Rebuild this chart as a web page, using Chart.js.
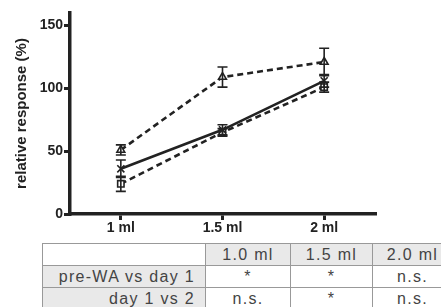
<!DOCTYPE html>
<html>
<head>
<meta charset="utf-8">
<script src="https://cdn.jsdelivr.net/npm/chart.js@4/dist/chart.umd.min.js"></script>
<style>
html,body{margin:0;padding:0;background:#fff;overflow:hidden;}
#wrap{position:absolute;left:0;top:0;width:441px;height:240px;}
#tbl{position:absolute;left:42px;top:243px;border-collapse:collapse;font-family:Arial,"Liberation Sans",sans-serif;font-size:16px;letter-spacing:1.3px;color:#444;table-layout:fixed;border-left:1.5px solid #444;border-top:1.5px solid #444;}
#tbl td{height:21px;padding:0 5px;border:1px solid #999;line-height:21px;white-space:nowrap;overflow:hidden;}
#tbl td.g{background:#e9e9e9;}
#tbl td.r{text-align:right;padding-right:10px;}
#tbl td.c{text-align:center;}
#tbl tr.last td{border-top:1.5px solid #555;}
</style>
</head>
<body>
<div id="wrap"><canvas id="c" width="441" height="240"></canvas></div>
<table id="tbl"></table>
<script>
const categories = ["1 ml", "1.5 ml", "2 ml"];
const triangleMean = [51, 109, 121];
const triangleSem = [4, 8, 11];
const crossMean = [36, 67, 106];
const crossSem = [7, 4, 5];
const squareMean = [24, 65, 101];
const squareSem = [6, 3, 4];
const yTicks = [0, 50, 100, 150];

const tableHeader = ["", "1.0 ml", "1.5 ml", "2.0 ml"];
const tableRowLabels = ["pre-WA vs day 1", "day 1 vs 2"];
const tableRow1 = ["*", "*", "n.s."];
const tableRow2 = ["n.s.", "*", "n.s."];

// build table
const tbl = document.getElementById('tbl');
const colW = [163, 85, 82, 80];
let h = '<colgroup>' + colW.map(w => '<col style="width:' + w + 'px">').join('') + '</colgroup>';
h += '<tr>' + tableHeader.map((t, i) => '<td class="c' + (i > 0 ? ' g' : '') + '">' + t + '</td>').join('') + '</tr>';
[tableRow1, tableRow2].forEach((row, ri) => {
  h += '<tr' + (ri === 1 ? ' class="last"' : '') + '><td class="r g">' + tableRowLabels[ri] + '</td>' +
    row.map(v => '<td class="c">' + v + '</td>').join('') + '</tr>';
});
tbl.innerHTML = h;
tbl.style.width = colW.reduce((a, b) => a + b, 0) + 'px';

const INK = '#222';
const errorBars = {
  id: 'errorBars',
  afterDatasetsDraw(chart) {
    const ctx = chart.ctx;
    const y = chart.scales.y;
    chart.data.datasets.forEach((ds, di) => {
      const meta = chart.getDatasetMeta(di);
      meta.data.forEach((pt, i) => {
        const m = ds.data[i], s = ds.sem[i];
        const yt = y.getPixelForValue(m + s), yb = y.getPixelForValue(m - s);
        ctx.save();
        ctx.strokeStyle = INK;
        ctx.lineWidth = 1.6;
        ctx.beginPath();
        ctx.moveTo(pt.x, yt); ctx.lineTo(pt.x, yb);
        ctx.moveTo(pt.x - 5, yt); ctx.lineTo(pt.x + 5, yt);
        ctx.moveTo(pt.x - 5, yb); ctx.lineTo(pt.x + 5, yb);
        ctx.stroke();
        ctx.restore();
      });
    });
  }
};

const common = {
  borderColor: INK,
  borderWidth: 2.6,
  pointBorderColor: INK,
  pointBackgroundColor: '#fff',
  pointBorderWidth: 1.6,
  pointRadius: 4.5,
  fill: false,
  tension: 0
};

new Chart(document.getElementById('c'), {
  type: 'line',
  data: {
    labels: categories,
    datasets: [
      Object.assign({}, common, { label: 'triangle', data: triangleMean, sem: triangleSem, borderDash: [6, 4], pointStyle: 'triangle' }),
      Object.assign({}, common, { label: 'cross', data: crossMean, sem: crossSem, pointStyle: 'crossRot', pointRadius: 5 }),
      Object.assign({}, common, { label: 'square', data: squareMean, sem: squareSem, borderDash: [6, 4], pointStyle: 'rect' })
    ]
  },
  options: {
    responsive: false,
    animation: false,
    layout: { padding: { left: 13, right: 66, top: 13, bottom: 0 } },
    plugins: { legend: { display: false }, tooltip: { enabled: false } },
    scales: {
      x: {
        offset: true,
        grid: { display: true, offset: false, drawOnChartArea: false, drawTicks: true, tickLength: 6, lineWidth: 3, color: INK },
        border: { display: true, width: 3.5, color: INK },
        ticks: { color: '#222', font: { family: 'Arial', size: 14, weight: 'bold' }, padding: 0 },
        afterFit(s) { s.height = 26; }
      },
      y: {
        min: 0, max: 160,
        afterBuildTicks(s) { s.ticks = yTicks.map(v => ({ value: v })); },
        grid: { display: true, drawOnChartArea: false, drawTicks: true, tickLength: 6, lineWidth: 3, color: INK },
        border: { display: true, width: 3.5, color: INK },
        ticks: { color: '#222', font: { family: 'Arial', size: 14, weight: 'bold' }, padding: 1 },
        title: { display: true, text: 'relative response (%)', color: '#222', font: { family: 'Arial', size: 15, weight: 'bold' }, padding: { top: 0, bottom: 4 } },
        afterFit(s) { s.width = 57; }
      }
    }
  },
  plugins: [errorBars]
});
</script>
</body>
</html>
